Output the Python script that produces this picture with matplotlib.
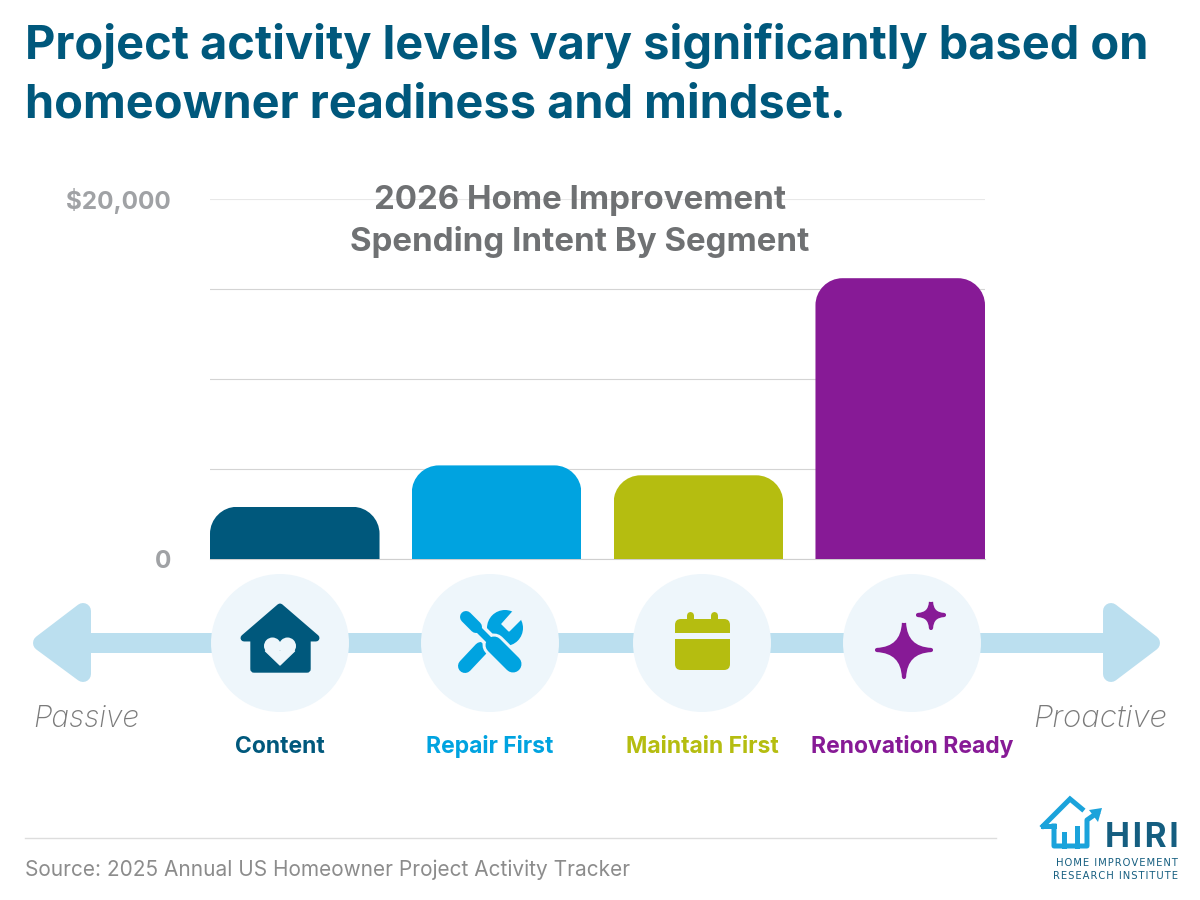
import numpy as np
import matplotlib
matplotlib.use('Agg')
import matplotlib.pyplot as plt
from matplotlib.patches import Circle, PathPatch, Polygon, Rectangle, FancyBboxPatch
from matplotlib.path import Path

# Segment data
segments = ['Content', 'Repair First', 'Maintain First', 'Renovation Ready']
spending = [2900, 5200, 4650, 15600]
seg_colors = ['#00587C', '#00A3E0', '#B5BD10', '#871A96']
grid_ticks = [0, 5000, 10000, 15000, 20000]
tick_labels = ['0', '', '', '', '$20,000']

title_lines = ['Project activity levels vary significantly based on',
               'homeowner readiness and mindset.']
chart_title = ['2026 Home Improvement', 'Spending Intent By Segment']
source = 'Source: 2025 Annual US Homeowner Project Activity Tracker'

BLUE_DARK = '#00587C'
BAND = '#BBDFEF'
DISC = '#EEF6FB'
LOGO = '#1BA3DB'
FONT = 'Inter'

fig = plt.figure(figsize=(12, 9), dpi=100, facecolor='white')

# Bar chart
ax = fig.add_axes([210 / 1200, 1 - 559 / 900, 775 / 1200, 360 / 900])
x = np.arange(4)
bars = ax.bar(x, spending, width=0.84, color=seg_colors, zorder=3)
ax.set_xlim(-0.42, 3.42)
ax.set_ylim(0, 20000)
ax.set_yticks(grid_ticks)
ax.set_yticklabels(tick_labels, fontsize=17.5, fontweight='bold', color='#A0A2A5', family=FONT)
ax.set_xticks([])
ax.tick_params(axis='y', length=0, pad=28)
ax.grid(axis='y', color='#D4D4D4', linewidth=0.8, zorder=0)
for s in ['top', 'right', 'left']:
    ax.spines[s].set_visible(False)
ax.spines['bottom'].set_color('#CFCFCF')
ax.spines['bottom'].set_linewidth(0.8)
ax.get_ygridlines()[-1].set_color('#E8E8E8')

# Round the top corners of each bar
rx = 27 / 775 * 3.84
ry = 27 / 360 * 20000
k = 0.45
for b in bars:
    x0, x1 = b.get_x(), b.get_x() + b.get_width()
    top = b.get_height()
    verts = [(x0, 0), (x0, top - ry),
             (x0, top - ry * k), (x0 + rx * k, top), (x0 + rx, top),
             (x1 - rx, top),
             (x1 - rx * k, top), (x1, top - ry * k), (x1, top - ry),
             (x1, 0), (x0, 0)]
    codes = [Path.MOVETO, Path.LINETO,
             Path.CURVE4, Path.CURVE4, Path.CURVE4,
             Path.LINETO,
             Path.CURVE4, Path.CURVE4, Path.CURVE4,
             Path.LINETO, Path.CLOSEPOLY]
    b.set_clip_path(Path(verts, codes), ax.transData)

# Full page layer in pixel units for everything around the bars
page = fig.add_axes([0, 0, 1, 1], zorder=2)
page.set_xlim(0, 1200)
page.set_ylim(900, 0)
page.axis('off')

# Titles
for txt, y in zip(title_lines, [46, 106]):
    page.text(25, y, txt, fontsize=33.8, fontweight='bold', color=BLUE_DARK,
              family=FONT, ha='left', va='center')
for txt, y in zip(chart_title, [201, 242]):
    page.text(580, y, txt, fontsize=23.8, fontweight='bold', color='#6F7173',
              family=FONT, ha='center', va='center', zorder=5)

# Passive to proactive arrow
page.add_patch(Rectangle((60, 633), 1075, 20, color=BAND, lw=0))
for pts in ([(41, 643), (83, 611), (83, 674)], [(1152, 643), (1111, 611), (1111, 674)]):
    page.add_patch(Polygon(pts, closed=True, fc=BAND, ec=BAND, lw=11.5, joinstyle='round'))
page.text(33, 719, 'Passive', fontsize=21.5, style='italic', color='#7A7A7A', family=FONT,
          fontweight='light', ha='left', va='center')
page.text(1167, 719, 'Proactive', fontsize=22.5, style='italic', color='#7A7A7A', family=FONT,
          fontweight='light', ha='right', va='center')

# Discs and segment names
centers = [280, 490, 702, 912]
for cx, name, col in zip(centers, segments, seg_colors):
    page.add_patch(Circle((cx, 643), 69, fc=DISC, ec='none', zorder=2))
    page.text(cx, 747, name, fontsize=16.5, fontweight='bold', color=col, family=FONT,
              ha='center', va='center')


def rounded_line(p0, p1, width_px, color, zorder=3):
    page.plot([p0[0], p1[0]], [p0[1], p1[1]], color=color, lw=width_px * 0.72,
              solid_capstyle='round', zorder=zorder)


def star(cx, cy, r, color):
    q = 0.05
    pts = [(cx, cy - r), (cx + r * q, cy - r * q), (cx + r, cy),
           (cx + r * q, cy + r * q), (cx, cy + r), (cx - r * q, cy + r * q),
           (cx - r, cy), (cx - r * q, cy - r * q), (cx, cy - r)]
    codes = [Path.MOVETO] + [Path.CURVE3] * 8
    page.add_patch(PathPatch(Path(pts, codes), fc=color, ec=color, lw=3,
                             joinstyle='round', zorder=3))


# House with heart
col = seg_colors[0]
page.add_patch(Polygon([(280, 607), (316, 638), (244, 638)], closed=True, fc=col, ec=col, lw=5,
                       joinstyle='round', zorder=3))
page.add_patch(FancyBboxPatch((251, 630), 59, 42, boxstyle='round,pad=0,rounding_size=3',
                              fc=col, ec=col, lw=1, zorder=3))
page.add_patch(Circle((272.5, 646), 8.5, fc=DISC, ec='none', zorder=4))
page.add_patch(Circle((287.5, 646), 8.5, fc=DISC, ec='none', zorder=4))
page.add_patch(Polygon([(265.5, 651), (294.5, 651), (280, 665)], closed=True, fc=DISC, ec=DISC,
                       lw=1, joinstyle='round', zorder=4))

# Crossed wrench and screwdriver
col = seg_colors[1]
page.add_patch(Circle((505, 628), 18, fc=col, ec='none', zorder=3))
page.add_patch(Polygon([(502, 624), (509, 631), (526, 614), (518, 606)], closed=True,
                       fc=DISC, ec=DISC, zorder=3))
rounded_line((465, 666), (481, 649), 14, col)
rounded_line((462, 613), (515, 666), 14, DISC, zorder=4)
rounded_line((494, 645), (513, 664), 23, DISC, zorder=4)
rounded_line((466, 617), (476, 627), 12, col, zorder=5)
rounded_line((476, 627), (494, 645), 7, col, zorder=5)
rounded_line((494, 645), (513, 664), 17, col, zorder=5)

# Calendar
col = seg_colors[2]
page.add_patch(FancyBboxPatch((675, 619), 55, 51, boxstyle='round,pad=0,rounding_size=6',
                              fc=col, ec='none', zorder=3))
rounded_line((690, 615), (690, 622), 7, col)
rounded_line((714, 615), (714, 622), 7, col)
page.add_patch(Rectangle((675, 633), 55, 6, fc=DISC, ec='none', zorder=4))

# Sparkles
star(904, 650, 27, seg_colors[3])
star(931, 615, 13, seg_colors[3])

# Footer
page.plot([25, 996], [838, 838], color='#DDDDDD', lw=1)
page.text(25, 870, source, fontsize=15, color='#8C8C8C', family=FONT, ha='left', va='center')

# Logo mark
page.plot([1043, 1070, 1082], [826, 799, 809], color=LOGO, lw=3.6, solid_joinstyle='miter')
page.plot([1043, 1054], [826, 826], color=LOGO, lw=3.6)
page.plot([1054, 1054, 1087, 1087, 1097], [826, 846, 846, 820, 813], color=LOGO, lw=3.6)
page.plot([1064, 1064], [834, 846], color=LOGO, lw=3.6)
page.plot([1077, 1077], [828, 846], color=LOGO, lw=3.6)
page.add_patch(Polygon([(1102, 808), (1089, 810), (1098, 822)], closed=True, fc=LOGO, ec='none'))
page.text(1142, 838, '\u200a'.join('HIRI'), fontsize=24, fontweight='bold', color='#155E80',
          family=['Inter', 'DejaVu Sans'], ha='center', va='center')
for txt, y in zip(['HOME IMPROVEMENT', 'RESEARCH INSTITUTE'], [863, 876]):
    page.text(1178, y, '\u200a'.join(txt), fontsize=7.2, color='#155E80', family='DejaVu Sans',
              ha='right', va='center')

fig.savefig('out.png', dpi=100)
